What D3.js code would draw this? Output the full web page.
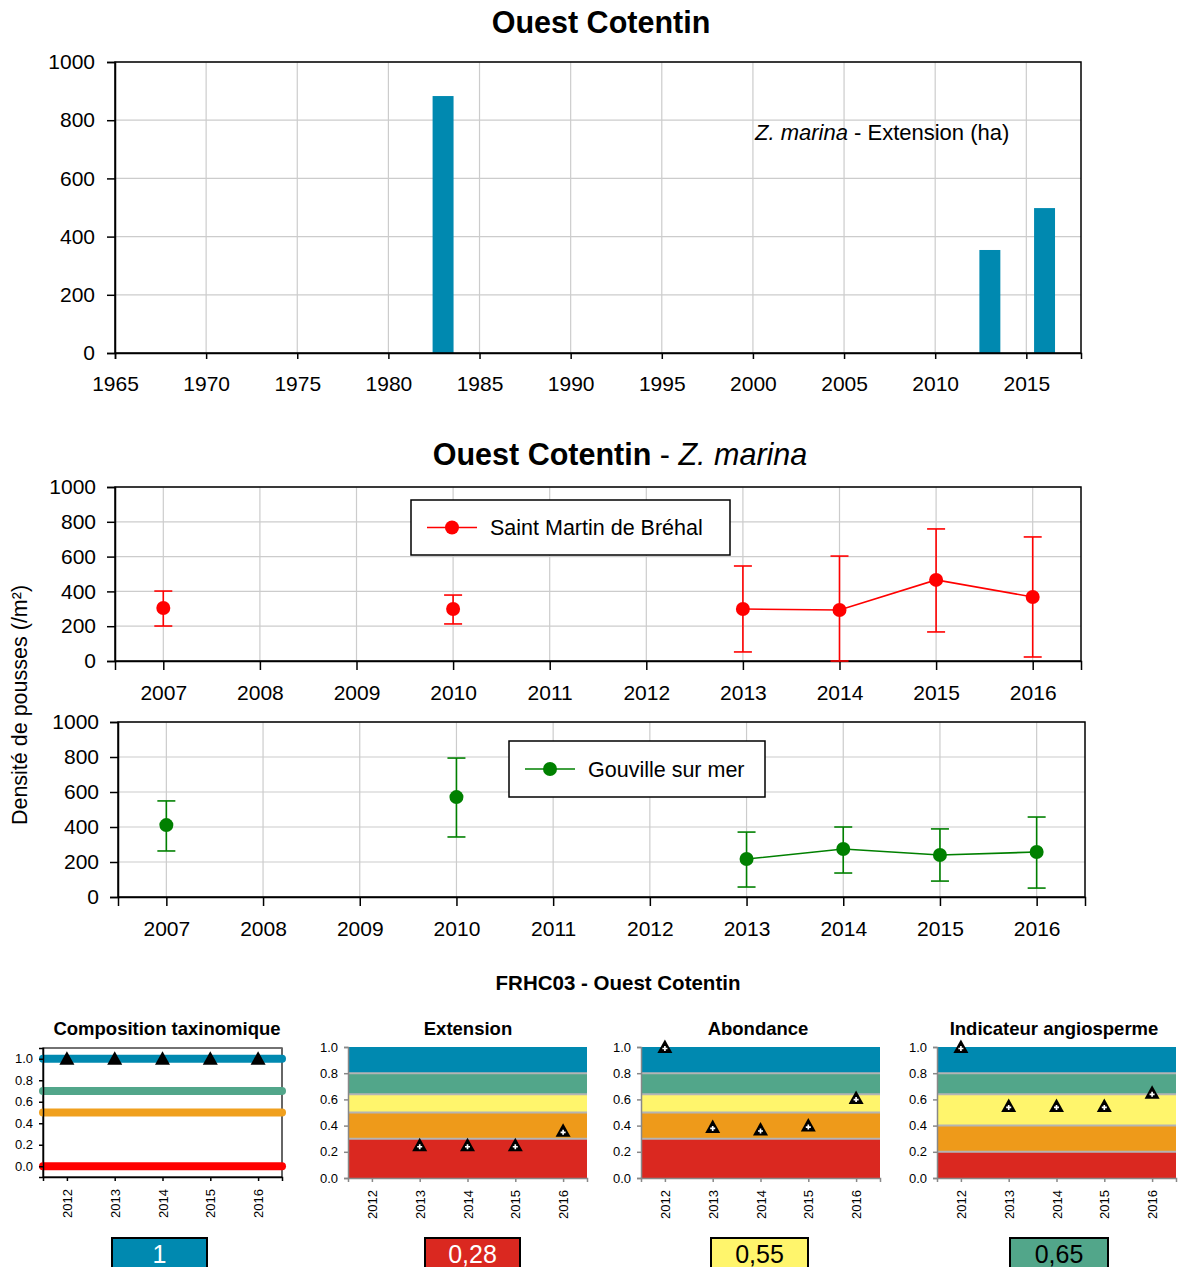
<!DOCTYPE html>
<html><head><meta charset="utf-8">
<script src="https://cdn.jsdelivr.net/npm/d3@7"></script>
<style>
body{margin:0;background:#fff;}
svg{display:block;font-family:"Liberation Sans",Arial,sans-serif;}
</style></head><body>
<svg id="chart" width="1179" height="1267"></svg>
<script>
// Z. marina meadow extension (ha)
const extYears = [1983, 2013, 2016];
const extValues = [883, 354, 498];
const extTicks = [1965, 1970, 1975, 1980, 1985, 1990, 1995, 2000, 2005, 2010, 2015];
const densTicks = [0, 200, 400, 600, 800, 1000];

// Shoot density (/m²), mean and error-bar bounds
const densYears = [2007, 2008, 2009, 2010, 2011, 2012, 2013, 2014, 2015, 2016];
const brehalYears = [2007, 2010, 2013, 2014, 2015, 2016];
const brehalMean = [305, 299, 299, 293, 466, 368];
const brehalLow = [201, 213, 52, 0, 167, 23];
const brehalHigh = [402, 379, 546, 603, 759, 713];
const gouvilleYears = [2007, 2010, 2013, 2014, 2015, 2016];
const gouvilleMean = [411, 571, 217, 274, 240, 257];
const gouvilleLow = [263, 343, 57, 137, 91, 51];
const gouvilleHigh = [549, 794, 371, 400, 389, 457];

// Indicator scores (EQR)
const indicYears = [2012, 2013, 2014, 2015, 2016];
const compositionScores = [1, 1, 1, 1, 1];
const extensionScores = [null, 0.25, 0.25, 0.25, 0.36];
const abondanceScores = [1.0, 0.39, 0.37, 0.40, 0.61];
const angioScores = [1.0, 0.55, 0.55, 0.55, 0.65];
const compositionLevels = [1.0, 0.7, 0.5, 0.0];
const extensionBounds = [0, 0.3, 0.5, 0.64, 0.8, 1];
const angioBounds = [0, 0.2, 0.4, 0.64, 0.8, 1];
const unitTicks = [0, 0.2, 0.4, 0.6, 0.8, 1.0];
const finalScores = ["1", "0,28", "0,55", "0,65"];

const C = {
  blue: "#0089b0", teal: "#52a68a", yellow: "#fff56c", orange: "#ee9a1a", red: "#da2820",
  grid: "#cccccc"
};
const classColors = [C.red, C.orange, C.yellow, C.teal, C.blue];
const levelColors = [C.blue, C.teal, "#f0a01e", "#ff0000"];
const FONT = "Liberation Sans, Arial, sans-serif";

const svg = d3.select("#chart");

function styleAxis(a, color, size) {
  a.select(".domain").attr("stroke", color).attr("stroke-width", 1.5);
  a.selectAll(".tick line").attr("stroke", color).attr("stroke-width", 1.5);
  a.selectAll("text").attr("font-size", size).attr("fill", "#000").attr("font-family", FONT);
}

// ---------- Extension bar chart ----------
{
  const L = 115, R = 1081, T = 62, B = 353;
  const x = d3.scaleLinear().domain([1965, 2018]).range([L, R]);
  const y = d3.scaleLinear().domain([0, 1000]).range([B, T]);
  const g = svg.append("g");
  g.append("g").selectAll("line").data(extTicks).join("line")
    .attr("x1", d => x(d)).attr("x2", d => x(d)).attr("y1", T).attr("y2", B)
    .attr("stroke", C.grid).attr("stroke-width", 1.2);
  g.append("g").selectAll("line").data(densTicks).join("line")
    .attr("x1", L).attr("x2", R).attr("y1", d => y(d)).attr("y2", d => y(d))
    .attr("stroke", C.grid).attr("stroke-width", 1.2);
  const bw = x(1966.15) - x(1965);
  g.selectAll("rect.bar").data(extYears).join("rect").attr("class", "bar")
    .attr("x", (d) => x(d) - bw / 2).attr("width", bw)
    .attr("y", (d, i) => y(extValues[i])).attr("height", (d, i) => B - y(extValues[i]))
    .attr("fill", C.blue);
  g.append("rect").attr("x", L).attr("y", T).attr("width", R - L).attr("height", B - T)
    .attr("fill", "none").attr("stroke", "#000").attr("stroke-width", 1.5);
  const ax = g.append("g").attr("transform", `translate(0,${B})`)
    .call(d3.axisBottom(x).tickValues(extTicks).tickFormat(d3.format("d")).tickSize(6).tickPadding(17));
  const ay = g.append("g").attr("transform", `translate(${L},0)`)
    .call(d3.axisLeft(y).tickValues(densTicks).tickFormat(d3.format("d")).tickSize(8).tickPadding(12));
  styleAxis(ax, "#000", 21);
  styleAxis(ay, "#000", 21);
  svg.append("text").attr("x", 601).attr("y", 33).attr("text-anchor", "middle")
    .attr("font-size", 30.5).attr("font-weight", "bold").text("Ouest Cotentin");
  const t = svg.append("text").attr("x", 755).attr("y", 140).attr("font-size", 22);
  t.append("tspan").attr("font-style", "italic").text("Z. marina");
  t.append("tspan").text(" - Extension (ha)");
}

// ---------- Shoot density charts ----------
function densityChart(o) {
  const {L, R, T, B, years, mean, low, high, color, name, legend} = o;
  const x = d3.scaleLinear().domain([2006.5, 2016.5]).range([L, R]);
  const y = d3.scaleLinear().domain([0, 1000]).range([B, T]);
  const g = svg.append("g");
  g.append("g").selectAll("line").data(densYears).join("line")
    .attr("x1", d => x(d)).attr("x2", d => x(d)).attr("y1", T).attr("y2", B)
    .attr("stroke", C.grid).attr("stroke-width", 1.2);
  g.append("g").selectAll("line").data(densTicks).join("line")
    .attr("x1", L).attr("x2", R).attr("y1", d => y(d)).attr("y2", d => y(d))
    .attr("stroke", C.grid).attr("stroke-width", 1.2);
  g.append("rect").attr("x", L).attr("y", T).attr("width", R - L).attr("height", B - T)
    .attr("fill", "none").attr("stroke", "#000").attr("stroke-width", 1.5);
  const ax = g.append("g").attr("transform", `translate(0,${B})`)
    .call(d3.axisBottom(x).tickValues(densYears).tickFormat(d3.format("d")).tickSize(9).tickPadding(15));
  const ay = g.append("g").attr("transform", `translate(${L},0)`)
    .call(d3.axisLeft(y).tickValues(densTicks).tickFormat(d3.format("d")).tickSize(8).tickPadding(11));
  styleAxis(ax, "#000", 21);
  styleAxis(ay, "#000", 21);
  // series across every year so that gaps break the line
  const series = densYears.map(yr => {
    const i = years.indexOf(yr);
    return {yr, v: i < 0 ? null : mean[i]};
  });
  const line = d3.line().defined(d => d.v != null).x(d => x(d.yr)).y(d => y(d.v));
  g.append("path").datum(series).attr("d", line).attr("fill", "none")
    .attr("stroke", color).attr("stroke-width", 1.6);
  const cap = 9;
  const eb = g.append("g").attr("stroke", color).attr("stroke-width", 1.6);
  years.forEach((yr, i) => {
    eb.append("line").attr("x1", x(yr)).attr("x2", x(yr)).attr("y1", y(low[i])).attr("y2", y(high[i]));
    eb.append("line").attr("x1", x(yr) - cap).attr("x2", x(yr) + cap).attr("y1", y(low[i])).attr("y2", y(low[i]));
    eb.append("line").attr("x1", x(yr) - cap).attr("x2", x(yr) + cap).attr("y1", y(high[i])).attr("y2", y(high[i]));
  });
  g.selectAll("circle.pt").data(years).join("circle").attr("class", "pt")
    .attr("cx", d => x(d)).attr("cy", (d, i) => y(mean[i])).attr("r", 7).attr("fill", color);
  // legend
  const lg = svg.append("g").attr("transform", `translate(${legend.x},${legend.y})`);
  lg.append("rect").attr("width", legend.w).attr("height", legend.h)
    .attr("fill", "#fff").attr("stroke", "#000").attr("stroke-width", 1.5);
  lg.append("line").attr("x1", 16).attr("x2", 66).attr("y1", legend.h / 2).attr("y2", legend.h / 2)
    .attr("stroke", color).attr("stroke-width", 1.6);
  lg.append("circle").attr("cx", 41).attr("cy", legend.h / 2).attr("r", 7).attr("fill", color);
  lg.append("text").attr("x", 79).attr("y", legend.h / 2 + 7.5).attr("font-size", 21.5).text(name);
}

densityChart({L: 115, R: 1081, T: 487, B: 661, years: brehalYears, mean: brehalMean,
  low: brehalLow, high: brehalHigh, color: "#ff0000", name: "Saint Martin de Bréhal",
  legend: {x: 411, y: 500, w: 319, h: 55}});
densityChart({L: 118, R: 1085, T: 722, B: 897, years: gouvilleYears, mean: gouvilleMean,
  low: gouvilleLow, high: gouvilleHigh, color: "#008000", name: "Gouville sur mer",
  legend: {x: 509, y: 741, w: 256, h: 56}});

{
  const t = svg.append("text").attr("x", 620).attr("y", 465).attr("text-anchor", "middle").attr("font-size", 30.5);
  t.append("tspan").attr("font-weight", "bold").text("Ouest Cotentin");
  t.append("tspan").text(" - ");
  t.append("tspan").attr("font-style", "italic").text("Z. marina");
  svg.append("text").attr("transform", "translate(27,705) rotate(-90)").attr("text-anchor", "middle")
    .attr("font-size", 21.5).text("Densité de pousses (/m²)");
}

// ---------- Indicator panels ----------
svg.append("text").attr("x", 618).attr("y", 990).attr("text-anchor", "middle")
  .attr("font-size", 20.5).attr("font-weight", "bold").text("FRHC03 - Ouest Cotentin");

function triangle(g, cx, cy, hollow) {
  const s = 7.5;
  g.append("path").attr("d", `M${cx},${cy - s}L${cx + s},${cy + s * 0.8}L${cx - s},${cy + s * 0.8}Z`)
    .attr("fill", "#000");
  if (hollow) {
    g.append("path").attr("transform", `translate(${cx},${cy + 1.5})`)
      .attr("d", d3.symbol(d3.symbolCross, 14)()).attr("fill", "#fff");
  }
}

function scorePanel(o) {
  const {L, R, T, B, title, titleX, domain, scores, bounds, levels, box, score, boxColor, textColor} = o;
  const x = d3.scaleLinear().domain([2011.5, 2016.5]).range([L, R]);
  const y = d3.scaleLinear().domain(domain).range([B, T]);
  const g = svg.append("g");
  const axisColor = levels ? "#000" : "#888";
  if (bounds) {
    const bands = d3.pairs(bounds);
    g.selectAll("rect.band").data(bands).join("rect").attr("class", "band")
      .attr("x", L).attr("width", R - L)
      .attr("y", d => y(d[1])).attr("height", d => y(d[0]) - y(d[1]))
      .attr("fill", (d, i) => classColors[i]);
    g.selectAll("line.sep").data(bounds.slice(1, -1)).join("line").attr("class", "sep")
      .attr("x1", L).attr("x2", R).attr("y1", d => y(d)).attr("y2", d => y(d))
      .attr("stroke", "#b4b4b4").attr("stroke-width", 2);
  }
  if (levels) {
    g.append("rect").attr("x", L).attr("y", T).attr("width", R - L).attr("height", B - T)
      .attr("fill", "none").attr("stroke", "#000").attr("stroke-width", 1.2);
    g.append("line").attr("x1", L).attr("x2", R).attr("y1", T).attr("y2", T)
      .attr("stroke", "#777").attr("stroke-width", 1.5);
    g.selectAll("line.lvl").data(levels).join("line").attr("class", "lvl")
      .attr("x1", L).attr("x2", R).attr("y1", d => y(d)).attr("y2", d => y(d))
      .attr("stroke", (d, i) => levelColors[i]).attr("stroke-width", 8).attr("stroke-linecap", "round");
  }
  const ax = g.append("g").attr("transform", `translate(0,${B})`)
    .call(d3.axisBottom(x).tickValues(indicYears).tickFormat(d3.format("d")).tickSize(4).tickPadding(4));
  ax.selectAll("text").attr("transform", "rotate(-90)").attr("text-anchor", "end")
    .attr("x", -12).attr("y", 0).attr("dy", "0.35em");
  const ay = g.append("g").attr("transform", `translate(${L},0)`)
    .call(d3.axisLeft(y).tickValues(unitTicks).tickFormat(d3.format(".1f")).tickSize(4).tickPadding(6));
  styleAxis(ax, axisColor, 13);
  styleAxis(ay, axisColor, 13);
  indicYears.forEach((yr, i) => {
    if (scores[i] != null) triangle(g, x(yr), y(scores[i]), !levels);
  });
  svg.append("text").attr("x", titleX).attr("y", 1035).attr("text-anchor", "middle")
    .attr("font-size", 18.5).attr("font-weight", "bold").text(title);
  svg.append("rect").attr("x", box[0]).attr("y", 1238).attr("width", box[1] - box[0]).attr("height", 36)
    .attr("fill", boxColor).attr("stroke", "#000").attr("stroke-width", 2);
  svg.append("text").attr("x", (box[0] + box[1]) / 2).attr("y", 1263).attr("text-anchor", "middle")
    .attr("font-size", 25).attr("fill", textColor).text(score);
}

scorePanel({L: 43, R: 282, T: 1048, B: 1177, title: "Composition taxinomique", titleX: 167,
  domain: [-0.1, 1.1], scores: compositionScores, levels: compositionLevels,
  box: [112, 207], score: finalScores[0], boxColor: C.blue, textColor: "#fff"});
scorePanel({L: 348, R: 587, T: 1047, B: 1178, title: "Extension", titleX: 468,
  domain: [0, 1], scores: extensionScores, bounds: extensionBounds,
  box: [425, 520], score: finalScores[1], boxColor: C.red, textColor: "#fff"});
scorePanel({L: 641, R: 880, T: 1047, B: 1178, title: "Abondance", titleX: 758,
  domain: [0, 1], scores: abondanceScores, bounds: extensionBounds,
  box: [711, 808], score: finalScores[2], boxColor: C.yellow, textColor: "#000"});
scorePanel({L: 937, R: 1176, T: 1047, B: 1178, title: "Indicateur angiosperme", titleX: 1054,
  domain: [0, 1], scores: angioScores, bounds: angioBounds,
  box: [1010, 1108], score: finalScores[3], boxColor: C.teal, textColor: "#000"});
</script>
</body></html>
